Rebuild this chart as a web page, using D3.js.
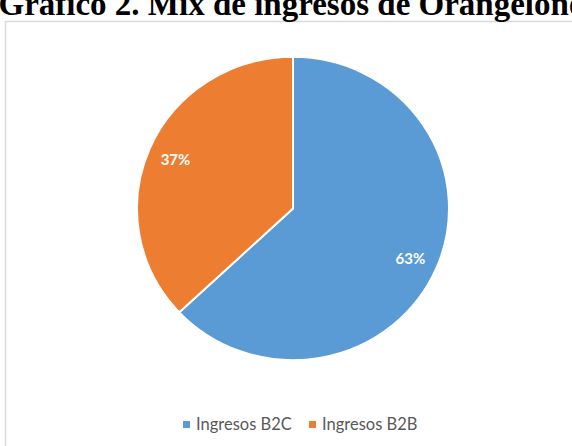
<!DOCTYPE html>
<html><head><meta charset="utf-8">
<script src="https://cdn.jsdelivr.net/npm/d3@7"></script>
<style>html,body{margin:0;padding:0;background:#fff;overflow:hidden}</style>
</head><body>
<svg id="c" width="572" height="446"></svg>
<script>
const title = "Gráfico 2. Mix de ingresos de Orangelone";
const categories = ["Ingresos B2C", "Ingresos B2B"];
const values = [63, 37];
const labels = ["63%", "37%"];
const colors = ["#5B9BD5", "#ED7D31"];

const svg = d3.select("#c");
svg.append("rect").attr("x", 5.5).attr("y", 21.5).attr("width", 600).attr("height", 500)
  .attr("fill", "#fff").attr("stroke", "#d9d9d9").attr("stroke-width", 1.5);

svg.append("text").attr("x", 291).attr("y", 15).attr("text-anchor", "middle")
  .attr("font-family", "Liberation Serif, Times New Roman, serif").attr("font-weight", "bold")
  .attr("font-size", 33).attr("fill", "#000").text(title);

const cx = 293, cy = 208.5, r = 156;
const g = svg.append("g").attr("transform", `translate(${cx},${cy}) scale(1,0.972)`);
const pie = d3.pie().sort(null).value(d => d)(values);
const arc = d3.arc().innerRadius(0).outerRadius(r);
g.selectAll("path").data(pie).join("path")
  .attr("d", arc).attr("fill", (d, i) => colors[i])
  .attr("stroke", "#fff").attr("stroke-width", 2).attr("stroke-linejoin", "round");

const lab = d3.arc().innerRadius(128).outerRadius(128);
pie.forEach((d, i) => {
  const [x, y] = lab.centroid(d);
  svg.append("text").attr("x", cx + x).attr("y", cy + y * 0.972 + 6)
    .attr("text-anchor", "middle").attr("font-family", "Lato, Open Sans, sans-serif")
    .attr("font-weight", "bold").attr("font-size", 15).attr("fill", "#fff").text(labels[i]);
});

const lx = [183, 309];
categories.forEach((c, i) => {
  svg.append("rect").attr("x", lx[i]).attr("y", 421).attr("width", 7).attr("height", 7).attr("fill", colors[i]);
  svg.append("text").attr("x", lx[i] + 13).attr("y", 430)
    .attr("font-family", "Lato, Open Sans, sans-serif").attr("font-size", 16.5).attr("fill", "#595959").text(c);
});
</script>
</body></html>
